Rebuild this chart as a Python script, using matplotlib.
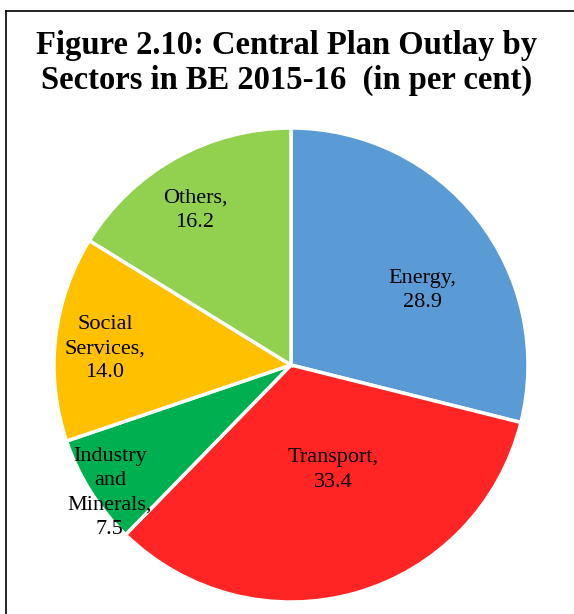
import matplotlib.pyplot as plt
from matplotlib.lines import Line2D

# ── data ─────────────────────────────────────────────────────────────────────
sectors = ["Energy", "Transport", "Industry\nand\nMinerals", "Social\nServices", "Others"]
shares = [28.9, 33.4, 7.5, 14.0, 16.2]
colors = ["#5B9BD5", "#FF2525", "#00B050", "#FFC000", "#92D050"]
# label offsets (fraction of radius) from the pie centre
label_pos = [(0.553, 0.316), (0.177, -0.443), (-0.764, -0.540), (-0.785, 0.068), (-0.405, 0.654)]

plt.rcParams["font.family"] = ["Liberation Serif", "DejaVu Serif"]

fig = plt.figure(figsize=(5.74, 6.14), dpi=100)
W, H = 574, 614

# pie: centre (291, 365) px, radius ~237 px
cx, cy, r = 291, 365, 237
ax = fig.add_axes([(cx - r) / W, (H - cy - r) / H, 2 * r / W, 2 * r / H])
ax.pie(shares, colors=colors, startangle=90, counterclock=False, radius=1,
       wedgeprops=dict(edgecolor="white", linewidth=2.5))
ax.set_xlim(-1, 1)
ax.set_ylim(-1, 1)
ax.set_aspect("equal")
ax.axis("off")

for name, val, (x, y) in zip(sectors, shares, label_pos):
    ax.text(x, y, f"{name},\n{val:.1f}", ha="center", va="center",
            fontsize=16, linespacing=1.36)

fig.text(0.5, (H - 63) / H, "Figure 2.10: Central Plan Outlay by\nSectors in BE 2015-16  (in per cent)",
         ha="center", va="center", fontsize=23.5, fontweight="bold", linespacing=1.18)

# frame (left and top edges visible)
fig.add_artist(Line2D([6 / W, 6 / W], [0, (H - 11) / H], color="black", linewidth=1.2,
                      transform=fig.transFigure))
fig.add_artist(Line2D([6 / W, 1], [(H - 11) / H, (H - 11) / H], color="black", linewidth=1.2,
                      transform=fig.transFigure))

fig.savefig("out.png", dpi=100)
